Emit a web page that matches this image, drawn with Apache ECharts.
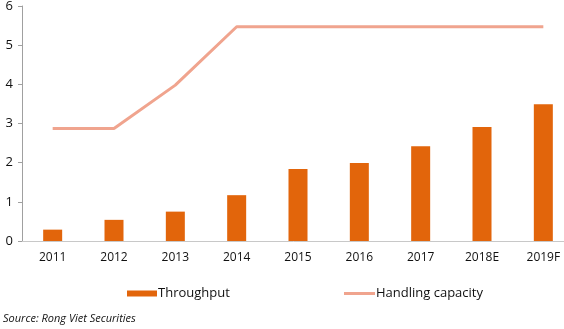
<!DOCTYPE html>
<html>
<head>
<meta charset="utf-8">
<script src="https://cdn.jsdelivr.net/npm/echarts@6/dist/echarts.min.js"></script>
<style>
  html, body { margin: 0; padding: 0; background: #fff; }
  #chart { width: 564px; height: 329px; }
</style>
</head>
<body>
<div id="chart"></div>
<script>
// Port throughput vs. handling capacity (million TEU)
const years = ['2011', '2012', '2013', '2014', '2015', '2016', '2017', '2018E', '2019F'];
const throughput = [0.29, 0.54, 0.75, 1.17, 1.84, 1.99, 2.42, 2.91, 3.49];
const capacity = [2.87, 2.87, 3.98, 5.47, 5.47, 5.47, 5.47, 5.47, 5.47];
const yTicks = { min: 0, max: 6, interval: 1 };

const FONT = '"Open Sans", "Noto Sans", sans-serif';
const BAR_COLOR = '#E2650B';
const LINE_COLOR = '#F0A48E';
const chart = echarts.init(document.getElementById('chart'), null, { renderer: 'canvas' });

const legendText = { fontFamily: FONT, fontSize: 13, color: '#111', padding: [0, 0, 0, -4] };

chart.setOption({
  animation: false,
  textStyle: { fontFamily: FONT },
  // the category band runs a little past the right edge of the canvas
  grid: { left: 22, width: 552, top: 6, height: 235, containLabel: false, outerBoundsMode: 'none' },
  legend: [
    {
      data: [{ name: 'Throughput', icon: 'rect' }],
      left: 122,
      top: 282,
      itemWidth: 30,
      itemHeight: 6,
      textStyle: legendText
    },
    {
      data: [{ name: 'Handling capacity', icon: 'rect' }],
      left: 339,
      top: 282,
      itemWidth: 31,
      itemHeight: 3,
      textStyle: legendText
    }
  ],
  xAxis: {
    type: 'category',
    data: years,
    axisLine: { lineStyle: { color: '#c8c8c8', width: 1 } },
    axisTick: { show: false },
    axisLabel: { fontFamily: FONT, fontSize: 12, color: '#111', margin: 11 }
  },
  yAxis: {
    type: 'value',
    min: yTicks.min,
    max: yTicks.max,
    interval: yTicks.interval,
    splitLine: { show: false },
    axisLine: { show: true, lineStyle: { color: '#a0a0a0', width: 1 } },
    axisTick: { show: true, length: 4, lineStyle: { color: '#a0a0a0' } },
    axisLabel: { fontFamily: FONT, fontSize: 13, color: '#111', margin: 9 }
  },
  series: [
    {
      name: 'Throughput',
      type: 'bar',
      data: throughput,
      barWidth: 19,
      itemStyle: { color: BAR_COLOR }
    },
    {
      name: 'Handling capacity',
      type: 'line',
      data: capacity,
      symbol: 'none',
      lineStyle: { color: LINE_COLOR, width: 3 },
      itemStyle: { color: LINE_COLOR }
    }
  ],
  graphic: [
    {
      type: 'text',
      left: 3,
      top: 313,
      style: {
        text: 'Source: Rong Viet Securities',
        font: 'italic 11px ' + FONT,
        fill: '#111'
      }
    }
  ]
});
</script>
</body>
</html>
